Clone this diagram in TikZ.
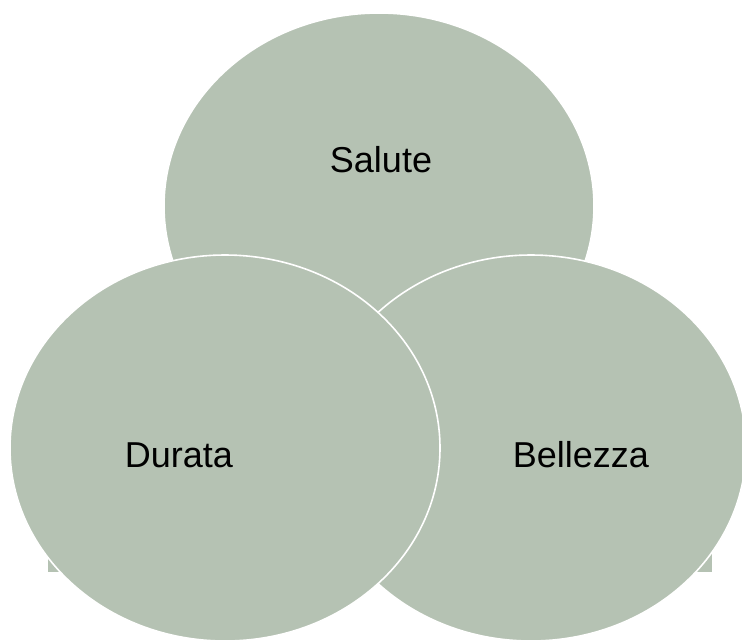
\documentclass[tikz,border=0pt]{standalone}
\usepackage{fontspec}
\setmainfont{Liberation Sans}
\usetikzlibrary{shapes.geometric}
\definecolor{sage}{RGB}{181,194,179}
\tikzset{
  blob/.style={ellipse, fill=sage, draw=white, line width=1.6pt, inner sep=0pt,
    minimum width=430pt, minimum height=386pt},
  lbl/.style={anchor=base, inner sep=0pt, font=\fontsize{36}{43}\selectfont, text=black}
}
\begin{document}
\begin{tikzpicture}[x=1pt,y=-1pt]
\useasboundingbox (0,0) rectangle (742,641);
\clip (0,0) rectangle (742,641);
\fill[sage] (48,420) rectangle (712,572);
\node[blob] (top) at (379,206) {};
\node[blob] (right) at (531,448) {};
\node[blob] (left) at (225,448) {};
\node[lbl] (salute) at (381,172) {Salute};
\node[lbl] (durata) at (179,467) {Durata};
\node[lbl] (bellezza) at (581,467) {Bellezza};
\end{tikzpicture}
\end{document}
